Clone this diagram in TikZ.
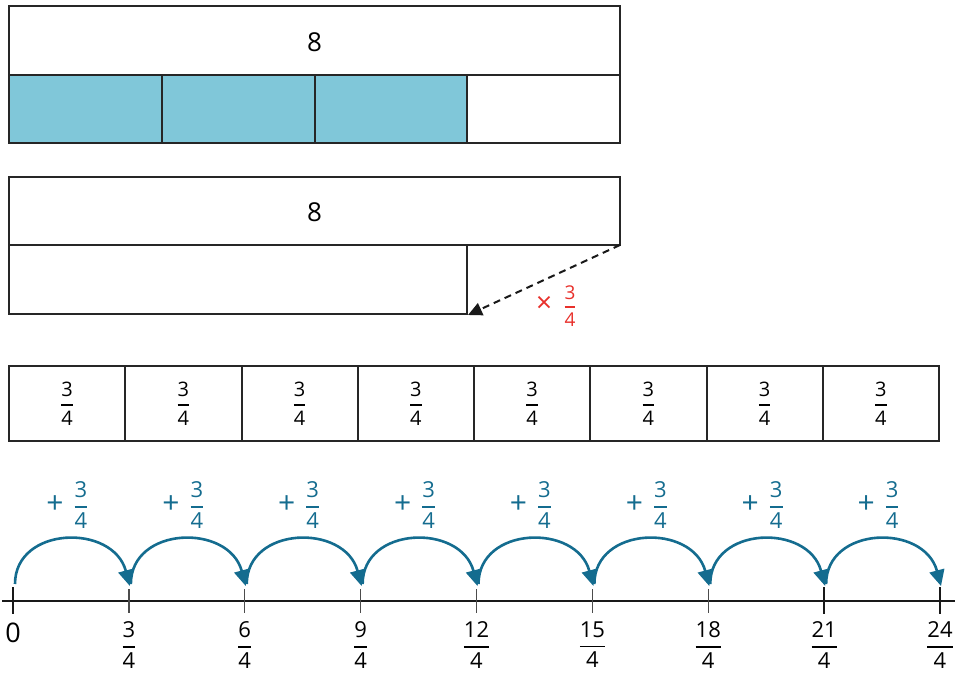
\documentclass[tikz,border=0pt]{standalone}
\usepackage{amsmath}
\usepackage{fontspec}
\setmainfont{Open Sans}
\usetikzlibrary{arrows.meta,calc}
\definecolor{barblue}{HTML}{80C7D9}
\definecolor{jump}{HTML}{146C8F}
\definecolor{redc}{HTML}{E8302B}
\newcommand\myfr[2]{\genfrac{}{}{1.6pt}{0}{\mbox{#1}}{\mbox{#2}}}
\begin{document}
\begin{tikzpicture}[x=1pt,y=-1pt,
  box/.style={draw=black!85,line width=2pt},
  cell/.style={draw=black!85,line width=2pt,minimum width=116.25pt,minimum height=75pt,inner sep=0pt,font=\fontsize{20}{22}\selectfont},
  bignum/.style={font=\fontsize{26}{30}\selectfont},
  jumparrow/.style={draw=jump,line width=2.6pt,-{Triangle[length=16pt,width=15pt]}},
  jumplabel/.style={text=jump,font=\fontsize{22}{26}\selectfont,inner sep=0pt},
  plussign/.style={text=jump,font=\fontsize{30}{30}\selectfont,inner sep=0pt},
  ticklabel/.style={font=\fontsize{22}{26}\selectfont},
  thicktick/.style={line width=2.5pt,black!90},
  thintick/.style={line width=1.3pt,black!70}]
\useasboundingbox (0,0) rectangle (957,675);
% top bar
\fill[barblue] (9,75) rectangle (467,143);
\draw[box] (9,6) rectangle (620,75);
\draw[box] (9,75) rectangle (620,143);
\foreach \x in {162,315,467} \draw[box] (\x,75) -- (\x,143);
\node[bignum] (eightA) at (314.5,42) {8};
% second bar
\draw[box] (9,177) rectangle (620,245);
\draw[box] (9,245) rectangle (467,314);
\node[bignum] (eightB) at (314.5,212) {8};
\coordinate (dstart) at (620,245);
\coordinate (dend) at (468,315);
\draw[line width=2pt,dash pattern=on 7pt off 5pt,black!90,-{Triangle[length=14pt,width=13pt]}] (dstart) -- (dend);
\node[text=redc,font=\fontsize{28}{28}\selectfont,inner sep=0pt] (times) at (544,304) {×};
\node[text=redc,font=\fontsize{19}{22}\selectfont,inner sep=0pt] (timesfr) at (570,306) {$\myfr{3}{4}$};
% row of eight cells
\foreach \i in {0,...,7} {
  \pgfmathsetmacro\cx{9+58.125+\i*116.25}
  \node[cell] (c\i) at (\cx,403.5) {$\myfr{3}{4}$};
}
% number line
\coordinate (lineL) at (2,601);
\coordinate (lineR) at (955,601);
\draw[line width=2.5pt,black!90] (lineL) -- (lineR);
\foreach \k in {0,...,8} {
  \pgfmathsetmacro\tx{13+\k*115.875}
  \coordinate (t\k) at (\tx,601);
}
\foreach \k in {0,7,8} \draw[thicktick] (t\k) ++(0,-14) -- ++(0,27);
\foreach \k in {1,...,6} \draw[thintick] (t\k) ++(0,-12) -- ++(0,24);
\node[font=\fontsize{27}{30}\selectfont] (l0) at (13,633) {0};
\foreach \k in {1,...,8} {
  \pgfmathtruncatemacro\num{3*\k}
  \node[ticklabel] (l\k) at ($(t\k)+(0,44)$) {$\myfr{\num}{4}$};
}
% jumps
\foreach \k in {0,...,7} {
  \pgfmathsetmacro\xa{13+\k*115.875}
  \pgfmathsetmacro\xb{13+(\k+1)*115.875}
  \coordinate (a\k) at (\xa+2,584);
  \coordinate (b\k) at (\xb+1,586);
  \draw[jumparrow] (a\k) .. controls (\xa+2,526) and (\xa+100,523) .. (b\k);
  \node[plussign] (q\k) at (\xa+42,505) {+};
  \node[jumplabel] (p\k) at (\xa+68,505) {$\myfr{3}{4}$};
}
\end{tikzpicture}
\end{document}
